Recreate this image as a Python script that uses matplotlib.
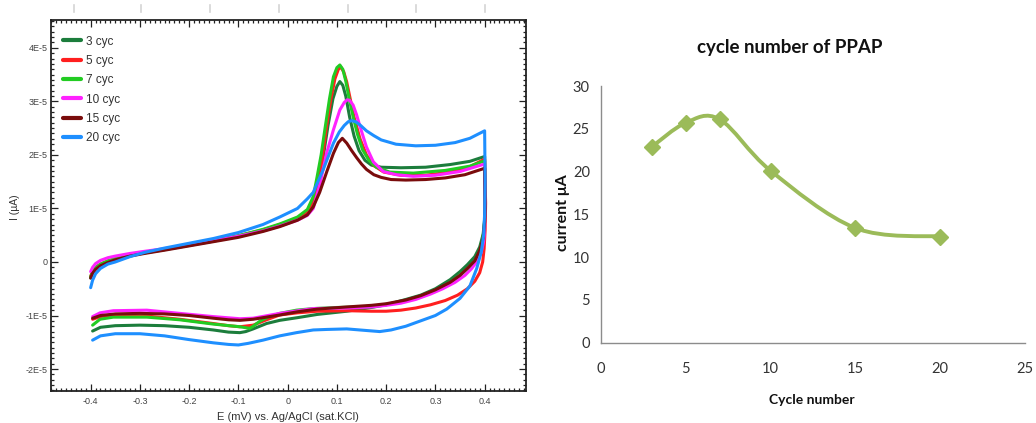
import numpy as np
import matplotlib.pyplot as plt
from matplotlib.path import Path
from matplotlib.patches import PathPatch
from matplotlib.lines import Line2D
from matplotlib.ticker import MultipleLocator, FixedLocator, FixedFormatter

# ---- Left panel: cyclic voltammograms, E (V) and I (x 1E-5 A) ----
# forward scan, low-potential part (same potentials for every cycle)
E_low = [-0.400, -0.396, -0.390, -0.380, -0.365, -0.350, -0.320, -0.290,
         -0.250, -0.200, -0.150, -0.100, -0.050, -0.016, 0.020, 0.040]

# 3 cycles
E3 = E_low + [0.052, 0.062, 0.072, 0.082, 0.092, 0.100, 0.106, 0.112, 0.118, 0.126,
              0.135, 0.145, 0.157, 0.170, 0.190, 0.230, 0.280, 0.330, 0.370, 0.400,
              0.401, 0.400, 0.397, 0.390, 0.380, 0.365, 0.350, 0.330, 0.300, 0.270,
              0.240, 0.200, 0.170, 0.120, 0.060, 0.020, -0.016, -0.043, -0.070,
              -0.085, -0.097, -0.120, -0.151, -0.200, -0.250, -0.300, -0.350, -0.380, -0.396]
I3 = [-0.30, -0.20, -0.12, -0.05, 0.01, 0.05, 0.12, 0.17, 0.23, 0.31, 0.39, 0.48, 0.59, 0.68, 0.80, 0.92,
      1.16, 1.50, 1.95, 2.55, 3.05, 3.28, 3.37, 3.30, 3.10, 2.70,
      2.35, 2.08, 1.90, 1.81, 1.77, 1.76, 1.77, 1.82, 1.88, 1.97,
      1.10, 0.80, 0.52, 0.28, 0.10, -0.05, -0.18, -0.33, -0.50, -0.62,
      -0.70, -0.80, -0.85, -0.92, -0.98, -1.04, -1.09, -1.15, -1.25,
      -1.30, -1.32, -1.31, -1.27, -1.22, -1.19, -1.18, -1.19, -1.22, -1.29]

# 5 cycles
E5 = E_low + [0.052, 0.062, 0.070, 0.079, 0.088, 0.096, 0.103, 0.108, 0.114, 0.120,
              0.127, 0.135, 0.147, 0.160, 0.175, 0.195, 0.230, 0.280, 0.330, 0.370, 0.400,
              0.402, 0.401, 0.399, 0.396, 0.390, 0.380, 0.365, 0.345, 0.320, 0.290,
              0.260, 0.230, 0.200, 0.170, 0.120, 0.060, 0.020, -0.016, -0.043, -0.070,
              -0.097, -0.120, -0.151, -0.219, -0.286, -0.354, -0.380, -0.396]
I5 = [-0.27, -0.17, -0.10, -0.04, 0.02, 0.06, 0.13, 0.18, 0.24, 0.32, 0.40, 0.49, 0.60, 0.70, 0.82, 0.94,
      1.10, 1.45, 1.90, 2.53, 3.05, 3.42, 3.60, 3.64, 3.55, 3.36,
      3.05, 2.70, 2.30, 2.00, 1.80, 1.68, 1.62, 1.62, 1.68, 1.78, 1.92,
      1.10, 0.60, 0.25, 0.00, -0.20, -0.36, -0.50, -0.62, -0.72, -0.80,
      -0.86, -0.90, -0.92, -0.92, -0.91, -0.92, -0.95, -0.99, -1.08, -1.18,
      -1.21, -1.19, -1.15, -1.07, -1.01, -0.99, -1.02, -1.07]

# 7 cycles
E7 = E_low + [0.052, 0.060, 0.068, 0.076, 0.085, 0.093, 0.100, 0.106, 0.112, 0.118,
              0.125, 0.133, 0.142, 0.152, 0.165, 0.180, 0.207, 0.255, 0.320, 0.370, 0.400,
              0.401, 0.400, 0.397, 0.391, 0.382, 0.368, 0.352, 0.332, 0.305, 0.275,
              0.245, 0.215, 0.185, 0.150, 0.100, 0.052, 0.018, -0.016, -0.040, -0.057,
              -0.070, -0.077, -0.097, -0.151, -0.219, -0.286, -0.354, -0.381, -0.396]
I7 = [-0.28, -0.18, -0.11, -0.04, 0.02, 0.06, 0.13, 0.18, 0.24, 0.32, 0.40, 0.49, 0.61, 0.71, 0.84, 0.98,
      1.22, 1.60, 2.00, 2.50, 3.05, 3.46, 3.63, 3.68, 3.60, 3.38,
      3.05, 2.71, 2.38, 2.10, 1.90, 1.77, 1.68, 1.66, 1.71, 1.79, 1.89,
      1.05, 0.75, 0.48, 0.24, 0.04, -0.10, -0.23, -0.37, -0.52, -0.63,
      -0.71, -0.77, -0.81, -0.84, -0.85, -0.87, -0.90, -0.96, -1.03, -1.11,
      -1.20, -1.24, -1.21, -1.16, -1.08, -1.03, -1.03, -1.07, -1.18]

# 10 cycles
E10 = E_low + [0.052, 0.066, 0.079, 0.093, 0.106, 0.115, 0.121, 0.126, 0.133, 0.140,
               0.147, 0.160, 0.174, 0.194, 0.221, 0.255, 0.300, 0.350, 0.400,
               0.401, 0.400, 0.398, 0.393, 0.385, 0.374, 0.360, 0.340, 0.315, 0.290,
               0.260, 0.230, 0.200, 0.170, 0.120, 0.052, -0.016, -0.070, -0.097, -0.151,
               -0.219, -0.286, -0.354, -0.381, -0.396]
I10 = [-0.18, -0.10, -0.03, 0.03, 0.08, 0.11, 0.16, 0.20, 0.25, 0.32, 0.40, 0.48, 0.58, 0.67, 0.78, 0.87,
       1.00, 1.47, 2.03, 2.47, 2.84, 2.98, 3.03, 3.02, 2.93, 2.75,
       2.53, 2.15, 1.87, 1.69, 1.63, 1.60, 1.62, 1.69, 1.83,
       1.05, 0.65, 0.38, 0.18, 0.02, -0.12, -0.25, -0.38, -0.50, -0.60,
       -0.70, -0.77, -0.81, -0.84, -0.86, -0.87, -0.96, -1.05, -1.06, -1.02,
       -0.96, -0.90, -0.91, -0.95, -1.02]

# 15 cycles
E15 = E_low + [0.052, 0.065, 0.080, 0.093, 0.103, 0.111, 0.120, 0.130, 0.140, 0.150,
               0.160, 0.175, 0.190, 0.210, 0.240, 0.280, 0.320, 0.360, 0.400,
               0.401, 0.400, 0.397, 0.390, 0.380, 0.365, 0.350, 0.330, 0.300, 0.270,
               0.240, 0.200, 0.170, 0.120, 0.060, 0.020, -0.016, -0.043, -0.070,
               -0.097, -0.120, -0.151, -0.200, -0.250, -0.300, -0.350, -0.380, -0.396]
I15 = [-0.30, -0.21, -0.14, -0.07, -0.01, 0.04, 0.11, 0.16, 0.22, 0.30, 0.38, 0.46, 0.57, 0.66, 0.78, 0.88,
       1.03, 1.30, 1.70, 2.03, 2.23, 2.31, 2.22, 2.08, 1.95, 1.83,
       1.73, 1.63, 1.58, 1.54, 1.53, 1.54, 1.57, 1.63, 1.75,
       1.00, 0.75, 0.45, 0.22, 0.02, -0.12, -0.25, -0.38, -0.52, -0.63,
       -0.71, -0.78, -0.81, -0.84, -0.88, -0.93, -0.99, -1.03, -1.07,
       -1.09, -1.08, -1.05, -1.00, -0.97, -0.96, -0.97, -1.00, -1.05]

# 20 cycles
E20 = E_low + [0.052, 0.072, 0.093, 0.105, 0.115, 0.123, 0.130, 0.138, 0.147, 0.160,
               0.175, 0.190, 0.220, 0.260, 0.300, 0.340, 0.370, 0.400,
               0.401, 0.400, 0.398, 0.393, 0.384, 0.370, 0.350, 0.323, 0.300, 0.270,
               0.240, 0.210, 0.187, 0.160, 0.120, 0.080, 0.052, 0.018, -0.016, -0.050,
               -0.080, -0.100, -0.120, -0.151, -0.200, -0.250, -0.300, -0.350, -0.380, -0.396]
I20 = [-0.48, -0.34, -0.22, -0.12, -0.04, 0.00, 0.10, 0.18, 0.26, 0.35, 0.44, 0.55, 0.70, 0.84, 1.00, 1.18,
       1.30, 1.72, 2.22, 2.43, 2.55, 2.62, 2.64, 2.62, 2.56, 2.45,
       2.36, 2.28, 2.20, 2.17, 2.18, 2.23, 2.31, 2.45,
       1.50, 0.90, 0.50, 0.18, -0.12, -0.45, -0.68, -0.88, -1.00, -1.10,
       -1.20, -1.27, -1.30, -1.28, -1.25, -1.26, -1.27, -1.32, -1.38, -1.46,
       -1.52, -1.55, -1.54, -1.51, -1.45, -1.38, -1.34, -1.34, -1.38, -1.46]

cv_labels = ["3 cyc", "5 cyc", "7 cyc", "10 cyc", "15 cyc", "20 cyc"]
cv_E = [E3, E5, E7, E10, E15, E20]
cv_I = [I3, I5, I7, I10, I15, I20]
cv_colors = ["#1c7d3c", "#ff1f1f", "#22cc22", "#ff22ff", "#7a0c0c", "#1e8fff"]

x_ticks = [-0.4, -0.3, -0.2, -0.1, 0, 0.1, 0.2, 0.3, 0.4]
x_ticklabels = ["-0.4", "-0.3", "-0.2", "-0.1", "0", "0.1", "0.2", "0.3", "0.4"]
y_ticks = [-2e-5, -1e-5, 0, 1e-5, 2e-5, 3e-5, 4e-5]
y_ticklabels = ["-2E-5", "-1E-5", "0", "1E-5", "2E-5", "3E-5", "4E-5"]

# ---- Right panel: peak current vs cycle number ----
cycles = [3, 5, 7, 10, 15, 20]
current = [22.9, 25.7, 26.1, 20.1, 13.4, 12.4]

narrow = ["Liberation Sans Narrow", "Liberation Sans", "DejaVu Sans"]
calibri = ["Lato", "DejaVu Sans"]

fig = plt.figure(figsize=(10.36, 4.23), dpi=100)

# faint marks at the very top of the image
for px in [74, 141, 210, 279, 348, 416, 485]:
    fig.add_artist(Line2D([px / 1036, px / 1036], [1 - 5 / 423, 1 - 12 / 423],
                          color="#d4d4d4", lw=1.2, transform=fig.transFigure))

# ======================================================
# 1. CYCLIC VOLTAMMOGRAMS
# ======================================================
ax1 = fig.add_axes([51 / 1036, 1 - 391 / 423, 475 / 1036, 371 / 423])
for lab, E, I, c in zip(cv_labels, cv_E, cv_I, cv_colors):
    ax1.plot(E, np.array(I) * 1e-5, color=c, lw=2.2, label=lab,
             solid_capstyle="round", solid_joinstyle="round")

ax1.set_xlim(-0.4805, 0.484)
ax1.set_ylim(-2.41e-5, 4.52e-5)
ax1.xaxis.set_major_locator(FixedLocator(x_ticks))
ax1.xaxis.set_major_formatter(FixedFormatter(x_ticklabels))
ax1.yaxis.set_major_locator(FixedLocator(y_ticks))
ax1.yaxis.set_major_formatter(FixedFormatter(y_ticklabels))
ax1.xaxis.set_minor_locator(MultipleLocator(0.01))
ax1.yaxis.set_minor_locator(MultipleLocator(1e-6))
ax1.tick_params(which="both", direction="in", top=True, right=True, width=0.9,
                color="#222222")
ax1.tick_params(which="major", length=5)
ax1.tick_params(which="minor", length=2.2)
ax1.tick_params(axis="x", pad=4, labelsize=6.5, labelcolor="#444444")
ax1.tick_params(axis="y", pad=2.5, labelsize=6.5, labelcolor="#444444")
for t in ax1.get_xticklabels() + ax1.get_yticklabels():
    t.set_family(narrow)
for s in ax1.spines.values():
    s.set_linewidth(1.3)
    s.set_color("#222222")

leg = ax1.legend(loc="upper left", bbox_to_anchor=(0.025, 0.958), frameon=False,
                 borderpad=0, borderaxespad=0, handlelength=1.5, handletextpad=0.5,
                 labelspacing=0.62, prop={"family": narrow, "size": 8.5})
for t in leg.get_texts():
    t.set_color("#333333")
for h in leg.get_lines():
    h.set_linewidth(3)

fig.text(288 / 1036, 1 - 417 / 423, "E (mV) vs. Ag/AgCl (sat.KCl)", ha="center",
         va="center", fontsize=8, family=narrow, color="#333333")
fig.text(15 / 1036, 1 - 207 / 423, "I (\u00b5A)", ha="center", va="center",
         rotation=90, fontsize=7.5, family=narrow, color="#333333")

# ======================================================
# 2. CURRENT VS CYCLE NUMBER (smoothed line)
# ======================================================
ax2 = fig.add_axes([601 / 1036, 1 - 342.7 / 423, 424 / 1036, 256.7 / 423])
green = "#9bbb59"

pts = np.column_stack([cycles, current]).astype(float)
verts = [pts[0]]
codes = [Path.MOVETO]
n = len(pts)
for i in range(n - 1):
    p0 = pts[max(i - 1, 0)]
    p1 = pts[i]
    p2 = pts[i + 1]
    p3 = pts[min(i + 2, n - 1)]
    verts += [p1 + (p2 - p0) / 6, p2 - (p3 - p1) / 6, p2]
    codes += [Path.CURVE4] * 3
ax2.add_patch(PathPatch(Path(verts, codes), fill=False, edgecolor=green, lw=2.8,
                        capstyle="round", joinstyle="round"))
ax2.plot(cycles, current, linestyle="none", marker="D", ms=8, color=green)

ax2.set_xlim(0, 25)
ax2.set_ylim(0, 30)
ax2.set_xticks([0, 5, 10, 15, 20, 25])
ax2.set_yticks([0, 5, 10, 15, 20, 25, 30])
ax2.tick_params(length=0, labelsize=10.5, labelcolor="#333333")
ax2.tick_params(axis="x", pad=14)
ax2.tick_params(axis="y", pad=8)
for t in ax2.get_xticklabels() + ax2.get_yticklabels():
    t.set_family(calibri)
ax2.spines["top"].set_visible(False)
ax2.spines["right"].set_visible(False)
for s in ["left", "bottom"]:
    ax2.spines[s].set_color("#8c8c8c")
    ax2.spines[s].set_linewidth(1.0)

fig.text(790 / 1036, 1 - 47 / 423, "cycle number of PPAP", ha="center", va="center",
         fontsize=13.5, fontweight="bold", family=calibri, color="#111111")
fig.text(563 / 1036, 1 - 213 / 423, "current \u03bcA", ha="center", va="center",
         rotation=90, fontsize=11.5, fontweight="bold", family=calibri, color="#111111")
fig.text(812 / 1036, 1 - 400 / 423, "Cycle number", ha="center", va="center",
         fontsize=10, fontweight="bold", family=calibri, color="#111111")

fig.savefig("out.png", dpi=100)
